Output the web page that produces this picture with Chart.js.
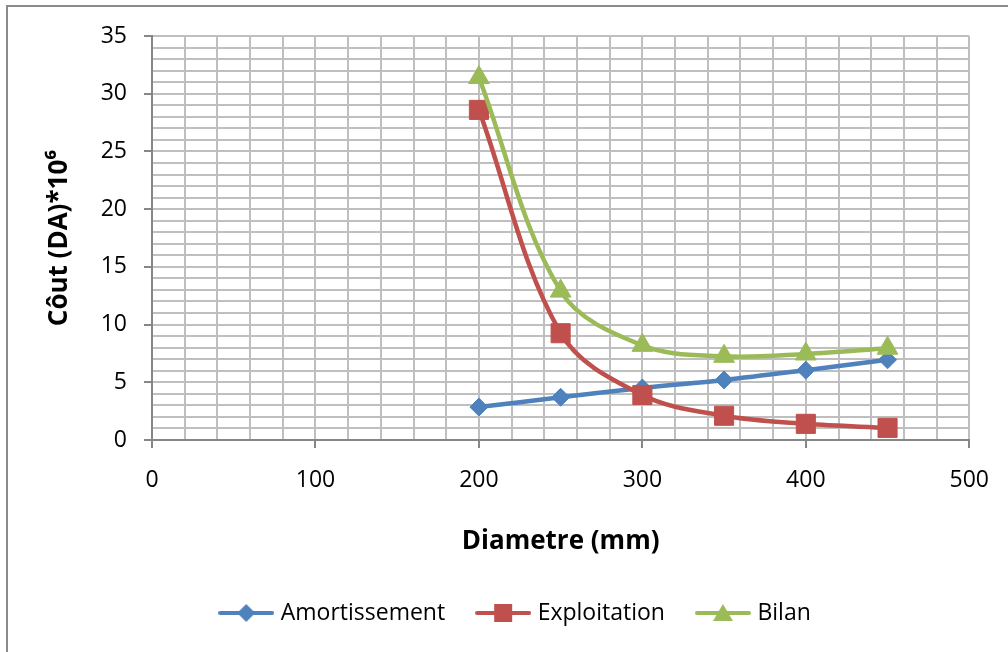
<!DOCTYPE html>
<html>
<head>
<meta charset="utf-8">
<script src="https://cdn.jsdelivr.net/npm/chart.js@4.4.1/dist/chart.umd.min.js"></script>
<style>
  html, body { margin: 0; padding: 0; background: #fff; }
  #wrap { position: relative; width: 1008px; height: 652px; overflow: hidden; }
  #frame { position: absolute; left: 6px; top: 5px; width: 1100px; height: 700px;
           border: 2px solid #8a8a8a; box-sizing: border-box; }
  canvas { position: absolute; left: 0; top: 0; }
</style>
</head>
<body>
<div id="wrap">
  <div id="frame"></div>
  <canvas id="chart" width="1008" height="652"></canvas>
</div>
<script>
// ── Data ─────────────────────────────────────
const diametres     = [200, 250, 300, 350, 400, 450];
const amortissement = [2.85, 3.7, 4.5, 5.2, 6.05, 6.95];
const exploitation  = [28.6, 9.25, 3.9, 2.1, 1.4, 1.05];
const bilan         = [31.4, 12.9, 8.2, 7.25, 7.45, 7.95];
const xLabels       = [0, 100, 200, 300, 400, 500];
const yLabels       = [0, 5, 10, 15, 20, 25, 30, 35];

const BLUE  = '#4F81BD';
const RED   = '#C0504D';
const GREEN = '#9BBB59';
const FONT  = "'Open Sans', 'Noto Sans', sans-serif";
const GRID  = '#bfbfbf';
const AXIS  = '#868686';

// legend icon: line with marker in the middle (Excel style)
function legendIcon(color, shape) {
  const c = document.createElement('canvas');
  c.width = 56; c.height = 24;
  const g = c.getContext('2d');
  g.strokeStyle = color; g.lineWidth = 4; g.lineCap = 'round';
  g.beginPath(); g.moveTo(2, 12); g.lineTo(54, 12); g.stroke();
  g.fillStyle = color;
  g.beginPath();
  if (shape === 'diamond') { g.moveTo(28, 3); g.lineTo(37, 12); g.lineTo(28, 21); g.lineTo(19, 12); }
  else if (shape === 'square') { g.rect(19, 3, 18, 18); }
  else { g.moveTo(28, 3); g.lineTo(38, 20); g.lineTo(18, 20); }
  g.closePath(); g.fill();
  return c;
}

function serie(label, values, color, pointStyle, radius, order, shape) {
  return {
    label,
    data: diametres.map((d, i) => ({ x: d, y: values[i] })),
    borderColor: color,
    backgroundColor: color,
    borderWidth: 4.5,
    tension: 0.35,
    pointStyle,
    pointRadius: radius,
    pointBorderWidth: 1,
    pointBackgroundColor: color,
    pointBorderColor: color,
    order,
    icon: legendIcon(color, shape),
  };
}

new Chart(document.getElementById('chart'), {
  type: 'line',
  data: {
    datasets: [
      serie('Amortissement', amortissement, BLUE, 'rectRot', 9, 3, 'diamond'),
      serie('Exploitation', exploitation, RED, 'rect', 13.5, 2, 'square'),
      serie('Bilan', bilan, GREEN, 'triangle', 12, 1, 'triangle'),
    ],
  },
  options: {
    responsive: false,
    animation: false,
    layout: { padding: { left: 63, top: 36, right: 37, bottom: 17.5 } },
    plugins: {
      tooltip: { enabled: false },
      legend: {
        position: 'bottom',
        labels: {
          usePointStyle: true,
          pointStyleWidth: 46,
          padding: 35,
          color: '#000',
          font: { family: FONT, size: 23 },
          generateLabels: chart => chart.data.datasets.map((ds, i) => ({
            text: ds.label,
            pointStyle: ds.icon,
            fillStyle: ds.borderColor,
            strokeStyle: ds.borderColor,
            lineWidth: 0,
            hidden: false,
            datasetIndex: i,
          })),
        },
      },
    },
    scales: {
      x: {
        type: 'linear',
        min: 0, max: 500,
        afterFit: s => { s.height = 126.5; },
        ticks: {
          stepSize: 20, autoSkip: false, maxRotation: 0, padding: 19,
          color: '#000', font: { family: FONT, size: 23 },
          callback: v => xLabels.includes(v) ? v : '',
        },
        grid: {
          color: GRID, lineWidth: 2, tickLength: 8, tickWidth: 2,
          tickColor: ctx => (ctx.tick && xLabels.includes(ctx.tick.value)) ? AXIS : 'rgba(0,0,0,0)',
        },
        border: { color: AXIS, width: 2 },
        title: {
          display: true, text: 'Diametre (mm)', color: '#000',
          font: { family: FONT, size: 26, weight: 'bold' },
          padding: { top: 0, bottom: 9 },
        },
      },
      y: {
        min: 0, max: 35,
        afterFit: s => { s.width = 89; },
        ticks: {
          stepSize: 1, autoSkip: false, padding: 17,
          color: '#000', font: { family: FONT, size: 23 },
          callback: v => yLabels.includes(v) ? v : '',
        },
        grid: {
          color: GRID, lineWidth: 2, tickLength: 8, tickWidth: 2,
          tickColor: ctx => (ctx.tick && yLabels.includes(ctx.tick.value)) ? AXIS : 'rgba(0,0,0,0)',
        },
        border: { color: AXIS, width: 2 },
        title: {
          display: true, text: 'Côut (DA)*10⁶', color: '#000',
          font: { family: FONT, size: 26, weight: 'bold' },
          padding: { top: -19, bottom: 0 },
        },
      },
    },
  },
});
</script>
</body>
</html>
